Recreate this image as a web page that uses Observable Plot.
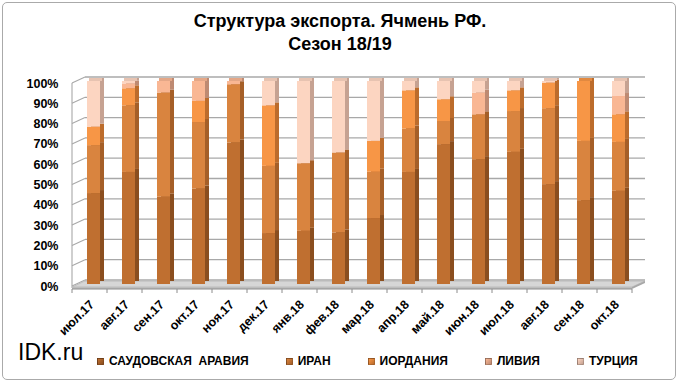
<!DOCTYPE html>
<html><head><meta charset="utf-8">
<script src="https://cdn.jsdelivr.net/npm/d3@7"></script>
<script src="https://cdn.jsdelivr.net/npm/@observablehq/plot@0.6"></script>
<style>
body{margin:0;background:#fff;}
#wrap{position:relative;width:680px;height:384px;overflow:hidden;font-family:"Liberation Sans Narrow","Arial Narrow","Liberation Sans",sans-serif;}
#frame{position:absolute;left:2px;top:2px;width:672px;height:376px;border:1px solid #aaa;border-radius:5px;}
#title{position:absolute;top:10px;left:0;width:680px;text-align:center;font-weight:bold;font-size:18px;line-height:23px;color:#000;}
#chart{position:absolute;left:0;top:60px;}
#idk{position:absolute;left:18px;top:339px;font-family:"Liberation Sans",Arial,sans-serif;font-size:23px;color:#000;}
#legend{position:absolute;top:354px;left:97px;display:flex;gap:37px;font-weight:bold;font-size:12px;white-space:pre;color:#000;}
#legend .it{display:flex;align-items:center;gap:5px;}
#legend .sw{width:7px;height:7px;border:1px solid rgba(0,0,0,0.25);box-sizing:border-box;}
</style></head>
<body>
<div id="wrap">
  <div id="frame"></div>
  <div id="title">Структура экспорта. Ячмень РФ.<br>Сезон 18/19</div>
  <div id="chart"></div>
  <div id="idk">IDK.ru</div>
  <div id="legend"></div>
</div>
<script>
const months = ["июл.17","авг.17","сен.17","окт.17","ноя.17","дек.17","янв.18","фев.18","мар.18","апр.18","май.18","июн.18","июл.18","авг.18","сен.18","окт.18"];
const seriesNames = ["САУДОВСКАЯ  АРАВИЯ","ИРАН","ИОРДАНИЯ","ЛИВИЯ","ТУРЦИЯ"];
const saudi  = [44.8,55.2,43.0,47.0,69.7,25.1,26.2,25.4,32.5,55.2,68.9,61.5,65.1,49.2,41.3,45.9];
const iran   = [23.6,32.8,51.3,32.8,28.7,33.1,33.3,39.4,22.8,21.4,11.4,22.1,20.1,37.4,29.2,24.1];
const jordan = [ 9.1, 8.4, 0.0,10.4, 0.0,29.8, 0.0, 0.0,15.2,18.8,10.7, 0.0,10.2,12.6,29.5,13.6];
const libya  = [ 0.0, 2.4, 5.7, 9.8, 1.6, 0.0, 0.0, 0.0, 0.0, 0.0, 0.0,10.7, 0.0, 0.0, 0.0, 9.0];
const turkey = [22.5, 1.2, 0.0, 0.0, 0.0,12.0,40.5,35.2,29.5, 4.6, 9.0, 5.7, 4.6, 0.8, 0.0, 7.4];
const yTicks = [0,10,20,30,40,50,60,70,80,90,100];
const frontColors = ["#BF6F30","#D9843F","#F79646","#F9B794","#FCD5C1"];
const sideColors  = ["#8A4E1F","#A55F28","#BC6C2C","#BE8A72","#C6A292"];

const seriesValues = [saudi, iran, jordan, libya, turkey];
const rows = [];
months.forEach((m, i) => seriesNames.forEach((s, k) => rows.push({month: m, series: s, value: seriesValues[k][i], k})));
const tops = months.map((m, i) => {
  let k = 4; while (k > 0 && seriesValues[k][i] <= 0) k--;
  return {month: m, color: d3.color(frontColors[k]).darker(0.25).formatHex()};
});

const DX = 13, DY = 6;
function walls(index, {x, y}, values, dims) {
  const L = dims.marginLeft, R = dims.width - dims.marginRight;
  const g = d3.create("svg:g");
  const y0 = y(0);
  for (const t of yTicks) {
    g.append("line").attr("x1", L + DX).attr("x2", R + DX).attr("y1", y(t) - DY).attr("y2", y(t) - DY)
      .attr("stroke", "#a8a8a8").attr("stroke-width", 1.3);
    g.append("line").attr("x1", L).attr("x2", L + DX).attr("y1", y(t)).attr("y2", y(t) - DY)
      .attr("stroke", "#a8a8a8").attr("stroke-width", 1.1);
  }
  g.append("line").attr("x1", L).attr("x2", L).attr("y1", y(100)).attr("y2", y0 + 2).attr("stroke", "#a8a8a8").attr("stroke-width", 1.1);
  g.append("path").attr("d", `M${L},${y0+1}L${R},${y0+1}L${R+DX},${y0+1-DY}L${L+DX},${y0+1-DY}Z`)
    .attr("fill", "#d6d6d6").attr("stroke", "#b5b5b5").attr("stroke-width", 0.8);
  g.append("path").attr("d", `M${L},${y0+1}L${R},${y0+1}L${R},${y0+3}L${L},${y0+3}Z`).attr("fill", "#bdbdbd");
  g.append("path").attr("d", `M${R},${y0+1}L${R+DX},${y0+1-DY}L${R+DX},${y0+3-DY}L${R},${y0+3}Z`).attr("fill", "#a8a8a8");
  const dom = x.domain();
  const step = x(dom[1]) - x(dom[0]);
  const bw = x.bandwidth();
  g.append("line").attr("x1", L).attr("x2", R).attr("y1", y0 + 3).attr("y2", y0 + 3).attr("stroke", "#8c8c8c");
  for (let i = 0; i <= dom.length; i++) {
    const bx = (i < dom.length ? x(dom[i]) : x(dom[dom.length - 1]) + step) + bw / 2 - step / 2;
    g.append("line").attr("x1", bx).attr("x2", bx).attr("y1", y0 + 3).attr("y2", y0 + 7).attr("stroke", "#8c8c8c");
  }
  return g.node();
}

const BX = 4;
const chart = Plot.plot({
  width: 680, height: 285,
  marginTop: 23, marginBottom: 59, marginLeft: 72, marginRight: 48,
  style: {fontFamily: '"Liberation Sans Narrow","Arial Narrow","Liberation Sans",sans-serif', fontWeight: "bold", fontSize: "12px", color: "#000", background: "transparent"},
  x: {domain: months, paddingInner: 0.64, paddingOuter: 0.32, label: null},
  y: {domain: [0, 100], label: null},
  color: {domain: seriesNames, range: frontColors},
  marks: [
    walls,
    Plot.barY(rows, {x: "month", y: "value", fill: d => sideColors[d.k], dx: BX + 4, dy: -2 - 3}),
    Plot.barY(rows, {x: "month", y: "value", fill: "series", dx: BX, dy: -2}),
    Plot.barY(tops, {x: "month", y1: 100, y2: 100, insetTop: -3, fill: "color", dx: BX + 2, dy: -2}),
    Plot.axisY({ticks: yTicks, tickFormat: d => d + "%", tickSize: 0, tickPadding: 14, fontSize: 12.5, fill: "#000"}),
    Plot.axisX({tickRotate: -45, tickSize: 0, tickPadding: 10, dx: 2, dy: 6, fontSize: 12.5, fill: "#000"})
  ]
});
document.getElementById("chart").append(chart);

const leg = document.getElementById("legend");
seriesNames.forEach((s, k) => {
  const it = document.createElement("div"); it.className = "it";
  const sw = document.createElement("div"); sw.className = "sw";
  sw.style.background = `linear-gradient(135deg, ${frontColors[k]}, ${sideColors[k]})`;
  const tx = document.createElement("span"); tx.textContent = s;
  it.append(sw, tx); leg.append(it);
});
</script>
</body></html>
